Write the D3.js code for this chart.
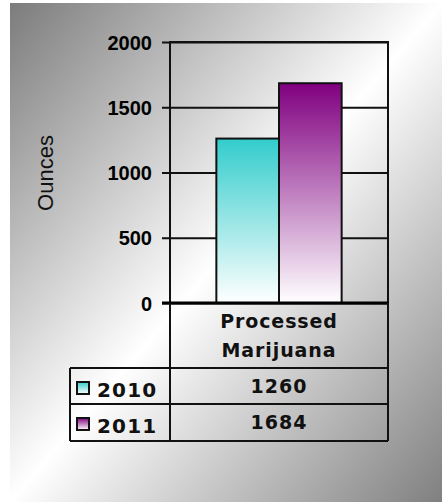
<!DOCTYPE html>
<html>
<head>
<meta charset="utf-8">
<script src="https://cdn.jsdelivr.net/npm/d3@7"></script>
<style>
  html, body { margin: 0; padding: 0; background: #fff; }
  svg { display: block; }
</style>
</head>
<body>
<div id="chart"></div>
<script>
// chart data
const categories = ["Processed Marijuana"];
const seriesNames = ["2010", "2011"];
const values2010 = [1260];
const values2011 = [1684];
const yTicks = [0, 500, 1000, 1500, 2000];

const W = 442, H = 502;
const plot = { left: 170, right: 388, top: 42, bottom: 303 };
const tableRows = { header: 368, r1: 404, r2: 441 };
const tableLeft = 70;

const svg = d3.select('#chart').append('svg')
    .attr('width', W)
    .attr('height', H);

const defs = svg.append('defs');

// page background: gray -> white -> gray diagonally
const bg = defs.append('linearGradient').attr('id', 'bg')
    .attr('x1', 0).attr('y1', 0).attr('x2', 1).attr('y2', 1);
bg.append('stop').attr('offset', '0%').attr('stop-color', '#7c7c7c');
bg.append('stop').attr('offset', '50%').attr('stop-color', '#ffffff');
bg.append('stop').attr('offset', '100%').attr('stop-color', '#808080');

const barColors = { '2010': '#33cccc', '2011': '#800080' };
seriesNames.forEach(s => {
    const g = defs.append('linearGradient').attr('id', 'g' + s)
        .attr('x1', 0).attr('y1', 0).attr('x2', 0).attr('y2', 1);
    g.append('stop').attr('offset', '0%').attr('stop-color', barColors[s]);
    g.append('stop').attr('offset', '100%').attr('stop-color', '#ffffff');
});

svg.append('rect')
    .attr('x', 10).attr('y', 3)
    .attr('width', W - 10).attr('height', H - 3)
    .attr('fill', 'url(#bg)');

const y = d3.scaleLinear().domain([0, 2000]).range([plot.bottom, plot.top]);
const x0 = d3.scaleBand().domain(categories).range([plot.left, plot.right]);
const x1 = d3.scaleBand().domain(seriesNames)
    .range([0, x0.bandwidth()]).paddingInner(0).paddingOuter(0.74);

// gridlines + ticks
const yAxis = d3.axisLeft(y).tickValues(yTicks).tickFormat(d3.format('d'))
    .tickSize(plot.right - plot.left + 8).tickPadding(10);
const ax = svg.append('g')
    .attr('transform', `translate(${plot.right},0)`)
    .call(yAxis);
ax.select('.domain').remove();
ax.selectAll('line').attr('stroke', '#111').attr('stroke-width', 2);
ax.selectAll('text')
    .attr('font-family', 'Liberation Sans, Arial, sans-serif')
    .attr('font-weight', 'bold')
    .attr('font-size', 20)
    .attr('fill', '#000')
    .attr('dy', '0.36em');

// plot frame
svg.append('rect')
    .attr('x', plot.left).attr('y', plot.top)
    .attr('width', plot.right - plot.left).attr('height', plot.bottom - plot.top)
    .attr('fill', 'none').attr('stroke', '#111').attr('stroke-width', 2);

// bars
const seriesData = [values2010, values2011];
categories.forEach((c, ci) => {
    seriesNames.forEach((s, si) => {
        const v = seriesData[si][ci];
        svg.append('rect')
            .attr('x', x0(c) + x1(s))
            .attr('y', y(v))
            .attr('width', x1.bandwidth())
            .attr('height', y(0) - y(v))
            .attr('fill', `url(#g${s})`)
            .attr('stroke', '#111')
            .attr('stroke-width', 2);
    });
});

// x axis line (thicker)
svg.append('line')
    .attr('x1', plot.left - 8).attr('x2', plot.right + 1)
    .attr('y1', plot.bottom).attr('y2', plot.bottom)
    .attr('stroke', '#000').attr('stroke-width', 3);

// axis title
svg.append('text')
    .attr('transform', `translate(53,173) rotate(-90)`)
    .attr('text-anchor', 'middle')
    .attr('font-family', 'Liberation Sans, Arial, sans-serif')
    .attr('font-size', 22)
    .attr('fill', '#111')
    .text('Ounces');

// data table
const tbl = svg.append('g').attr('fill', 'none').attr('stroke', '#111').attr('stroke-width', 2);
tbl.append('line').attr('x1', plot.left).attr('x2', plot.left).attr('y1', plot.bottom).attr('y2', tableRows.r2);
tbl.append('line').attr('x1', plot.right).attr('x2', plot.right).attr('y1', plot.bottom).attr('y2', tableRows.r2);
tbl.append('line').attr('x1', tableLeft).attr('x2', tableLeft).attr('y1', tableRows.header).attr('y2', tableRows.r2);
[tableRows.header, tableRows.r1, tableRows.r2].forEach(ry => {
    tbl.append('line').attr('x1', tableLeft).attr('x2', plot.right).attr('y1', ry).attr('y2', ry);
});

const tfont = 'DejaVu Sans, Verdana, sans-serif';
const cx = x0(categories[0]) + x0.bandwidth() / 2;
const labelLines = categories[0].split(' ');
labelLines.forEach((t, i) => {
    svg.append('text')
        .attr('x', cx).attr('y', 328 + i * 29)
        .attr('text-anchor', 'middle')
        .attr('font-family', tfont)
        .attr('font-weight', 'bold')
        .attr('font-size', 19)
        .attr('letter-spacing', 0.9)
        .attr('fill', '#111')
        .text(t);
});

const rowBase = [393, 429];
seriesNames.forEach((s, si) => {
    svg.append('text')
        .attr('x', cx).attr('y', rowBase[si])
        .attr('text-anchor', 'middle')
        .attr('font-family', tfont)
        .attr('font-weight', 'bold')
        .attr('font-size', 19)
        .attr('letter-spacing', 1)
        .attr('fill', '#111')
        .text(seriesData[si][0]);

    // legend key
    svg.append('rect')
        .attr('x', 77).attr('y', rowBase[si] - 11)
        .attr('width', 12).attr('height', 12)
        .attr('fill', `url(#g${s})`)
        .attr('stroke', '#111').attr('stroke-width', 2);
    svg.append('text')
        .attr('x', 97).attr('y', rowBase[si] + 4)
        .attr('font-family', tfont)
        .attr('font-weight', 'bold')
        .attr('font-size', 20)
        .attr('letter-spacing', 1.2)
        .attr('fill', '#111')
        .text(s);
});
</script>
</body>
</html>
